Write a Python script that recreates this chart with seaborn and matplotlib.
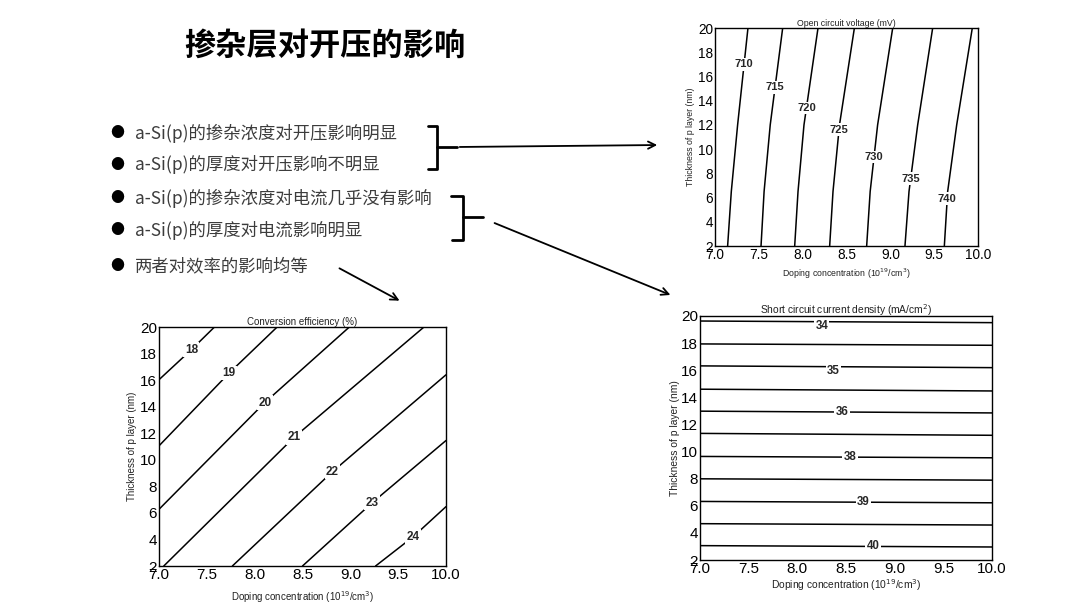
import numpy as np
import pandas as pd
import seaborn as sns
import matplotlib.pyplot as plt
from matplotlib.ticker import MultipleLocator
from matplotlib.lines import Line2D
from matplotlib.patches import FancyArrowPatch

# slide text
title = "掺杂层对开压的影响"
bullets = [
    "a-Si(p)的掺杂浓度对开压影响明显",
    "a-Si(p)的厚度对开压影响不明显",
    "a-Si(p)的掺杂浓度对电流几乎没有影响",
    "a-Si(p)的厚度对电流影响明显",
    "两者对效率的影响均等",
]

# Open circuit voltage contours: x read at fixed thickness values
voc_levels = [710, 715, 720, 725, 730, 735, 740]
voc_thick = [2, 6.5, 12, 20]
voc_x_t2 = [7.144, 7.525, 7.909, 8.308, 8.730, 9.167, 9.616]
voc_x_t6 = [7.186, 7.560, 7.947, 8.346, 8.770, 9.213, 9.654]
voc_x_t12 = [7.258, 7.630, 8.015, 8.420, 8.855, 9.312, 9.757]
voc_x_t20 = [7.376, 7.772, 8.175, 8.590, 9.027, 9.483, 9.935]
voc_label_y = [17.0, 15.1, 13.4, 11.6, 9.35, 7.55, 5.9]

# Conversion efficiency contours: start, label point, end
eff_levels = [18, 19, 20, 21, 22, 23, 24]
eff_start_x = [7.0, 7.0, 7.0, 7.05, 7.767, 8.50, 9.264]
eff_start_y = [16.03, 11.05, 6.27, 2.0, 2.0, 2.0, 2.0]
eff_mid_x = [7.338, 7.733, 8.106, 8.413, 8.814, 9.229, 9.658]
eff_mid_y = [18.29, 16.53, 14.31, 11.70, 9.11, 6.77, 4.21]
eff_end_x = [7.58, 8.235, 8.99, 9.77, 10.0, 10.0, 10.0]
eff_end_y = [20.0, 20.0, 20.0, 20.0, 16.4, 11.45, 6.47]

# Short circuit current density contours (nearly flat)
jsc_labels = ["34", "", "35", "", "36", "", "38", "", "39", "", "40"]
jsc_y_left = [19.63, 17.94, 16.32, 14.60, 12.98, 11.34, 9.64, 7.99, 6.32, 4.68, 3.06]
jsc_y_right = [19.51, 17.84, 16.19, 14.47, 12.85, 11.20, 9.54, 7.89, 6.22, 4.58, 2.96]
jsc_label_x = [8.25, np.nan, 8.37, np.nan, 8.46, np.nan, 8.54, np.nan, 8.68, np.nan, 8.78]

W, H = 1080, 608

sns.set_style("white")
plt.rcParams['font.family'] = ['Liberation Sans', 'DejaVu Sans']
plt.rcParams['axes.linewidth'] = 1.0

fig = plt.figure(figsize=(W / 100, H / 100), dpi=100)
fig.patch.set_facecolor('white')


def px_axes(left, top, right, bottom):
    return [left / W, 1 - bottom / H, (right - left) / W, (bottom - top) / H]


def fpt(x, y):
    return (x / W, 1 - y / H)


def draw_lines(ax, xs, ys):
    rows = []
    for i, (lx, ly) in enumerate(zip(xs, ys)):
        for a, b in zip(lx, ly):
            rows.append({"x": a, "y": b, "line": i})
    df = pd.DataFrame(rows)
    sns.lineplot(data=df, x="x", y="y", units="line", estimator=None, sort=False,
                 color="black", lw=1.1, ax=ax, legend=False)


def style_axes(ax, title_txt, tick_fs, lab_fs, xlab_pad, ylab_pad):
    ax.set_xlim(7.0, 10.0)
    ax.set_ylim(2, 20)
    ax.xaxis.set_major_locator(MultipleLocator(0.5))
    ax.xaxis.set_minor_locator(MultipleLocator(0.25))
    ax.yaxis.set_major_locator(MultipleLocator(2))
    ax.yaxis.set_minor_locator(MultipleLocator(1))
    ax.tick_params(which='both', direction='in', top=False, right=False,
                   labelsize=tick_fs, pad=1.5, colors='black')
    ax.tick_params(which='major', length=3, width=0.8)
    ax.tick_params(which='minor', length=2, width=0.8)
    ax.set_xticks(np.arange(7.0, 10.01, 0.5))
    ax.set_xticklabels([f"{v:.1f}" for v in np.arange(7.0, 10.01, 0.5)])
    ax.set_xlabel("Doping concentration (10$^{19}$/cm$^{3}$)", fontsize=lab_fs, labelpad=xlab_pad, color='#222222')
    ax.set_ylabel("Thickness of p layer (nm)", fontsize=lab_fs, labelpad=ylab_pad, color='#222222')
    ax.set_title(title_txt, fontsize=lab_fs, pad=1.5, color='#222222')
    for s in ax.spines.values():
        s.set_color('black')
        s.set_linewidth(1.0)


def contour_label(ax, x, y, s, fs, va='center'):
    ax.text(x, y, s, ha='center', va=va, fontsize=fs, weight='bold', zorder=5,
            bbox=dict(boxstyle='square,pad=0.12', fc='white', ec='none'))


# --- Open circuit voltage ---
ax1 = fig.add_axes(px_axes(715, 28, 978, 246))
voc_xs = [list(p) for p in zip(voc_x_t2, voc_x_t6, voc_x_t12, voc_x_t20)]
draw_lines(ax1, voc_xs, [voc_thick] * len(voc_levels))
for lvl, xs, ly in zip(voc_levels, voc_xs, voc_label_y):
    contour_label(ax1, np.interp(ly, voc_thick, xs), ly, str(lvl), 8)
style_axes(ax1, "Open circuit voltage (mV)", 9.8, 6.3, 3, 2)

# --- Conversion efficiency ---
ax2 = fig.add_axes(px_axes(159, 327, 446, 566))
eff_xs = [list(p) for p in zip(eff_start_x, eff_mid_x, eff_end_x)]
eff_ys = [list(p) for p in zip(eff_start_y, eff_mid_y, eff_end_y)]
draw_lines(ax2, eff_xs, eff_ys)
for lvl, mx, my in zip(eff_levels, eff_mid_x, eff_mid_y):
    contour_label(ax2, mx, my, str(lvl), 8.5)
style_axes(ax2, "Conversion efficiency (%)", 11, 7, 5, 2)

# --- Short circuit current density ---
ax3 = fig.add_axes(px_axes(700, 316, 992, 560))
jsc_xs = [[7.0, 10.0]] * len(jsc_labels)
jsc_ys = [list(p) for p in zip(jsc_y_left, jsc_y_right)]
draw_lines(ax3, jsc_xs, jsc_ys)
for i, (lab, lx) in enumerate(zip(jsc_labels, jsc_label_x)):
    if not lab:
        continue
    ly = np.interp(lx, [7.0, 10.0], jsc_ys[i])
    if i < 3:
        contour_label(ax3, lx, ly + 0.15, lab, 8.3, va='top')
    else:
        contour_label(ax3, lx, ly, lab, 8.3)
style_axes(ax3, "Short circuit current density (mA/cm$^{2}$)", 11, 7.4, 0.5, 1)

# --- slide text ---
cjk = ['Noto Sans CJK SC', 'DejaVu Sans']
fig.text(*fpt(325, 46), title, family=cjk, fontsize=22.5, weight='bold',
         ha='center', va='center', color='black')
for i, b in enumerate(bullets):
    y = [133, 165, 198, 230, 266][i]
    fig.text(*fpt(117, y), "●", family=cjk, fontsize=10, ha='center', va='center', color='black')
    fig.text(*fpt(135, y), b, family=cjk, fontsize=12.5, ha='left', va='center', color='#3c3c3c')

# brackets
br1 = [(428, 126), (437, 126), (437, 169), (428, 169)]
br2 = [(451, 196), (463, 196), (463, 240), (452, 240)]
for pts, prong in [(br1, [(437, 147), (457, 147)]), (br2, [(463, 217), (483, 217)])]:
    xs, ys = zip(*[fpt(*p) for p in pts])
    fig.add_artist(Line2D(xs, ys, transform=fig.transFigure, color='black', lw=2))
    xs, ys = zip(*[fpt(*p) for p in prong])
    fig.add_artist(Line2D(xs, ys, transform=fig.transFigure, color='black', lw=2))

# arrows
for a, b in [((457, 147), (660, 145)), ((492, 222), (673, 296)), ((337, 267), (402, 302))]:
    fig.add_artist(FancyArrowPatch(fpt(*a), fpt(*b), transform=fig.transFigure,
                                   arrowstyle='->', mutation_scale=13, lw=1.3, color='black'))

fig.savefig("out.png", dpi=100, facecolor='white')
